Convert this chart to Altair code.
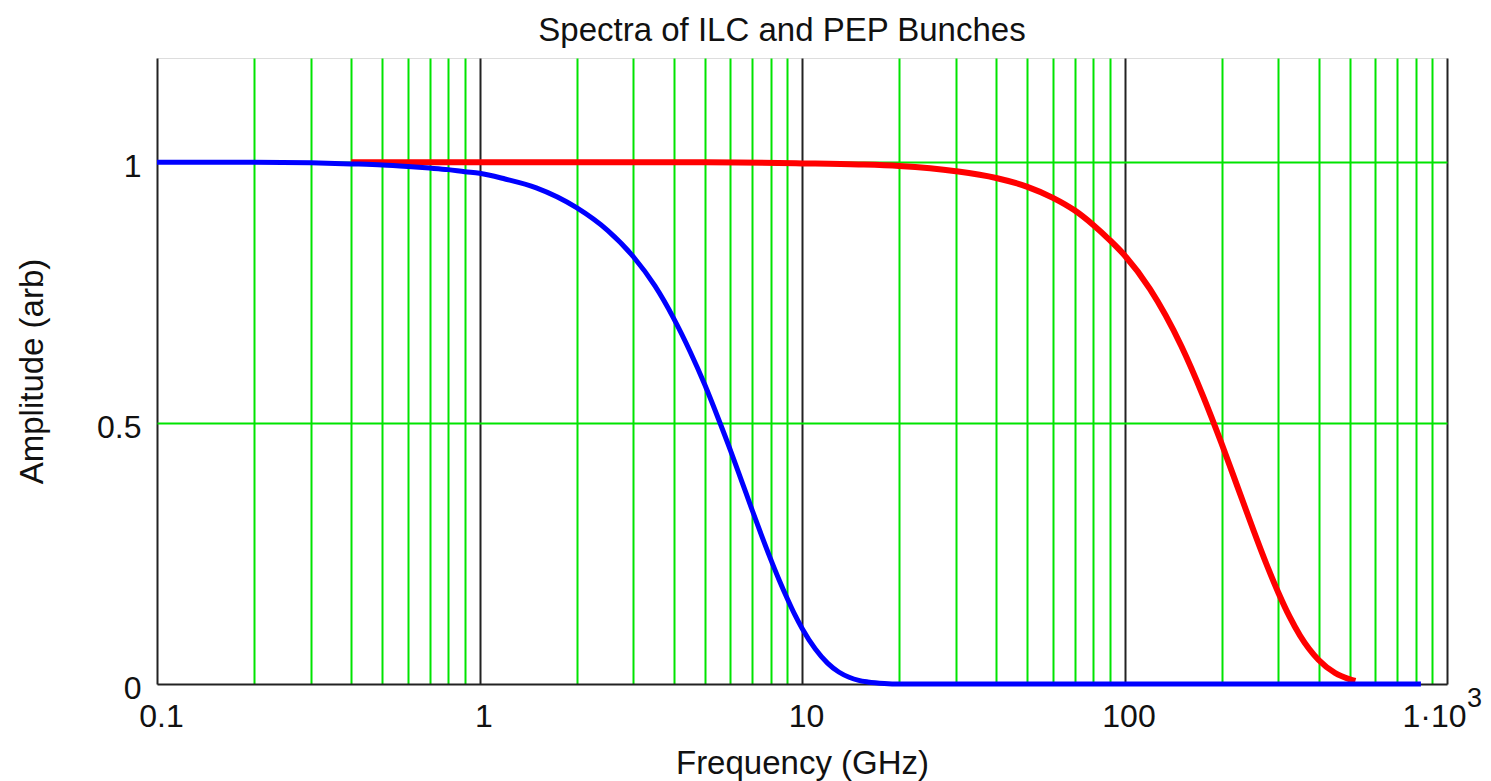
import altair as alt
import pandas as pd

# ILC bunch spectrum (blue)
ilc_freq = [0.1, 0.2, 0.3, 0.4, 0.5, 0.6, 0.7, 0.8, 0.9, 1, 1.2, 1.5, 2, 2.5, 3, 3.5,
            4, 4.5, 5, 5.5, 6, 6.5, 7, 7.5, 8, 8.5, 9, 9.5, 10, 11, 12, 13, 14, 15,
            16, 18, 20, 50, 100, 200, 500, 830]
ilc_amp = [1.0, 1.0, 0.999, 0.997, 0.995, 0.992, 0.989, 0.986, 0.982, 0.979, 0.968,
           0.951, 0.913, 0.869, 0.819, 0.763, 0.701, 0.637, 0.573, 0.509, 0.448, 0.389,
           0.334, 0.284, 0.239, 0.199, 0.164, 0.133, 0.107, 0.067, 0.040, 0.023, 0.013,
           0.007, 0.004, 0.001, 0.0, 0.0, 0.0, 0.0, 0.0, 0.0]

# PEP bunch spectrum (red)
pep_freq = [0.4, 1, 2, 5, 10, 15, 20, 30, 40, 50, 60, 70, 80, 90, 100, 120, 150, 175,
            200, 225, 250, 275, 300, 325, 350, 400, 450, 500, 520]
pep_amp = [1.0, 1.0, 1.0, 1.0, 0.998, 0.996, 0.993, 0.983, 0.970, 0.953, 0.932, 0.908,
           0.880, 0.851, 0.822, 0.757, 0.648, 0.553, 0.461, 0.375, 0.298, 0.231, 0.175,
           0.129, 0.093, 0.046, 0.021, 0.009, 0.006]

# axis ticks / grid
x_grid = [0.1, 0.2, 0.3, 0.4, 0.5, 0.6, 0.7, 0.8, 0.9,
          1, 2, 3, 4, 5, 6, 7, 8, 9,
          10, 20, 30, 40, 50, 60, 70, 80, 90,
          100, 200, 300, 400, 500, 600, 700, 800, 900, 1000]
x_major = [0.1, 1, 10, 100, 1000]
x_major_text = ["0.1", "1", "10", "100", "1·10"]
x_exp_text = ["3"]
x_exp_at = [1000]
y_ticks = [0, 0.5, 1]

FONT = "Liberation Sans"
TXT = "#111111"
GREEN = "#00e400"

ilc = pd.DataFrame({"f": ilc_freq, "a": ilc_amp})
pep = pd.DataFrame({"f": pep_freq, "a": pep_amp})
sup = pd.DataFrame({"f": x_exp_at, "a": [0] * len(x_exp_at), "t": x_exp_text})

major_test = " || ".join(f"datum.value == {v}" for v in x_major)
label_expr = " : ".join(f"datum.value == {v} ? '{t}'" for v, t in zip(x_major, x_major_text)) + " : ''"

x_axis = alt.Axis(
    values=x_grid,
    labelExpr=label_expr,
    labelOverlap=False,
    labelFlush=False,
    ticks=False,
    domain=False,
    grid=True,
    gridColor={"condition": {"test": major_test, "value": "#222222"}, "value": GREEN},
    gridWidth=2,
    gridOpacity=1,
    labelFont=FONT,
    labelFontSize=32,
    labelColor=TXT,
    labelPadding=17,
    labelOffset={"condition": {"test": "datum.value == 1000", "value": -13}, "value": 4},
    title="Frequency (GHz)",
    titleFont=FONT,
    titleFontSize=33,
    titleFontWeight="normal",
    titleColor=TXT,
    titleBaseline="alphabetic",
    titleY=89,
)

y_axis = alt.Axis(
    values=y_ticks,
    format="~g",
    labelFlush=False,
    ticks=False,
    domain=False,
    grid=True,
    gridColor={"condition": {"test": "datum.value == 0", "value": "#222222"}, "value": GREEN},
    gridWidth=2,
    gridOpacity=1,
    labelFont=FONT,
    labelFontSize=32,
    labelColor=TXT,
    labelPadding=16,
    labelBaseline="alphabetic",
    labelOffset=14,
    title="Amplitude (arb)",
    titleFont=FONT,
    titleFontSize=33,
    titleFontWeight="normal",
    titleColor=TXT,
    titleBaseline="alphabetic",
    titleX=-115,
    titleY=313,
)

xs = alt.Scale(type="log", domain=[0.1, 1000], nice=False)
ys = alt.Scale(domain=[0, 1.2], nice=False, zero=False)

red = alt.Chart(pep).mark_line(color="#ff0000", strokeWidth=6, interpolate="monotone").encode(
    x=alt.X("f:Q", scale=xs, axis=x_axis),
    y=alt.Y("a:Q", scale=ys, axis=y_axis),
)
blue = alt.Chart(ilc).mark_line(color="#0000ff", strokeWidth=5, interpolate="monotone").encode(
    x=alt.X("f:Q", scale=xs),
    y=alt.Y("a:Q", scale=ys),
)
exponent = alt.Chart(sup).mark_text(
    font=FONT, fontSize=27, color=TXT, align="left", baseline="alphabetic", dx=20, dy=23
).encode(
    x=alt.X("f:Q", scale=xs),
    y=alt.Y("a:Q", scale=ys),
    text="t:N",
)

chart = alt.layer(red, blue, exponent).properties(
    width=1290,
    height=626,
    autosize=alt.AutoSizeParams(type="none"),
    padding={"left": 157, "top": 58, "right": 44, "bottom": 97},
    title=alt.Title(
        "Spectra of ILC and PEP Bunches",
        font=FONT,
        fontSize=33,
        fontWeight="normal",
        color=TXT,
        anchor="middle",
        frame="group",
        baseline="alphabetic",
        offset=-16,
        dx=-20,
    ),
).configure_view(
    stroke="#111111", strokeWidth=2
).configure(background="white")

chart.save("out.html", embed_options={"renderer": "svg", "actions": False})
